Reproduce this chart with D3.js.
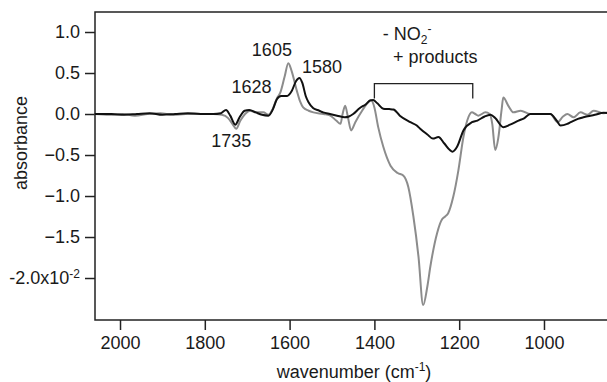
<!DOCTYPE html>
<html>
<head>
<meta charset="utf-8">
<script src="https://cdn.jsdelivr.net/npm/d3@7/dist/d3.min.js"></script>
<style>
  html, body { margin: 0; padding: 0; background: #fff; }
  svg { display: block; }
  text { font-family: "Liberation Sans", Arial, sans-serif; fill: #1a1a1a; }
</style>
</head>
<body>
<svg id="chart" width="607" height="382"></svg>
<script>
// Difference spectra (absorbance ×10^-2) vs wavenumber (cm^-1)
const darkWavenumber = [2060, 2020, 1990, 1960, 1930, 1900, 1870, 1840, 1810, 1780, 1762, 1750, 1740, 1728, 1718, 1706, 1695, 1680, 1665, 1650, 1640, 1630, 1620, 1606, 1595, 1585, 1577, 1570, 1562, 1555, 1544, 1530, 1521, 1505, 1488, 1470, 1460, 1450, 1435, 1420, 1410, 1403, 1393, 1379, 1365, 1355, 1340, 1315, 1300, 1292, 1275, 1262, 1249, 1235, 1222, 1216, 1205, 1190, 1170, 1157, 1140, 1126, 1115, 1096, 1080, 1060, 1048, 1032, 1000, 985, 970, 961, 945, 937, 920, 907, 880, 859, 850];
const darkAbsorbance = [0.0, 0.0, -0.01, 0.0, 0.01, -0.01, 0.0, 0.01, 0.0, 0.0, 0.01, 0.05, -0.02, -0.13, -0.04, 0.04, 0.05, 0.02, -0.01, -0.02, 0.05, 0.18, 0.22, 0.22, 0.28, 0.40, 0.44, 0.38, 0.22, 0.14, 0.07, 0.04, 0.02, 0.0, -0.02, -0.04, -0.03, 0.0, 0.07, 0.12, 0.165, 0.17, 0.13, 0.065, 0.06, 0.055, -0.02, -0.10, -0.14, -0.18, -0.25, -0.30, -0.28, -0.36, -0.44, -0.46, -0.40, -0.20, -0.10, -0.08, -0.03, -0.01, -0.05, -0.16, -0.13, -0.08, -0.055, 0.0, 0.0, 0.0, -0.08, -0.14, -0.12, -0.10, -0.06, -0.04, -0.01, 0.015, 0.01];

const greyWavenumber = [2060, 2025, 1995, 1965, 1935, 1905, 1875, 1845, 1815, 1780, 1760, 1745, 1735, 1726, 1716, 1705, 1693, 1680, 1662, 1650, 1640, 1630, 1622, 1612, 1603, 1595, 1583, 1575, 1568, 1555, 1544, 1520, 1504, 1490, 1480, 1475, 1469, 1462, 1455, 1445, 1429, 1415, 1408, 1400, 1391, 1379, 1362, 1345, 1332, 1320, 1308, 1296, 1285, 1275, 1268, 1252, 1240, 1233, 1226, 1214, 1202, 1190, 1181, 1170, 1162, 1155, 1138, 1128, 1122, 1115, 1108, 1100, 1096, 1084, 1072, 1055, 1032, 985, 968, 955, 945, 930, 914, 897, 883, 859, 850];
const greyAbsorbance = [0.0, -0.01, 0.0, -0.02, 0.0, 0.01, -0.01, 0.0, 0.0, 0.0, -0.01, -0.05, -0.12, -0.18, -0.08, 0.0, 0.04, 0.02, 0.02, -0.01, 0.06, 0.19, 0.26, 0.45, 0.62, 0.52, 0.285, 0.15, 0.08, 0.04, 0.02, 0.0, -0.02, -0.08, -0.12, 0.0, 0.10, -0.05, -0.20, -0.10, 0.04, 0.14, 0.17, 0.08, -0.16, -0.40, -0.63, -0.72, -0.75, -0.89, -1.25, -1.74, -2.33, -2.10, -1.86, -1.45, -1.28, -1.25, -1.21, -1.01, -0.69, -0.28, -0.08, 0.02, 0.0, -0.02, 0.02, 0.0, -0.12, -0.44, -0.30, 0.05, 0.20, 0.10, 0.02, 0.04, 0.0, 0.0, -0.10, -0.03, 0.0, -0.04, 0.02, -0.01, 0.04, 0.01, 0.02];

const xTicks = [2000, 1800, 1600, 1400, 1200, 1000];
const yTicks = [1.0, 0.5, 0.0, -0.5, -1.0, -1.5, -2.0];

// Peak annotations: [label, wavenumber, absorbance] at the start of each label's baseline
const peakLabels = [
  ["1605", 1689, 0.707],
  ["1580", 1571, 0.504],
  ["1628", 1737, 0.252],
  ["1735", 1785, -0.406]
];

(function draw() {
  const svg = d3.select("#chart");
  const mLeft = 95, mRight = 608, mTop = 12, mBottom = 320;

  const x = d3.scaleLinear().domain([2059, 849]).range([mLeft, mRight]);
  const y = d3.scaleLinear().domain([-2.512, 1.244]).range([mBottom, mTop]);

  // Plot frame
  svg.append("rect")
    .attr("x", mLeft).attr("y", mTop)
    .attr("width", mRight - mLeft).attr("height", mBottom - mTop)
    .attr("fill", "none").attr("stroke", "#222").attr("stroke-width", 1.5);

  // Axes
  const xAxis = d3.axisBottom(x).tickValues(xTicks).tickSize(10).tickPadding(6).tickFormat(d3.format("d"));
  const gx = svg.append("g").attr("transform", `translate(0,${mBottom})`).call(xAxis);
  gx.select(".domain").remove();

  const yAxis = d3.axisLeft(y).tickValues(yTicks).tickSize(10).tickPadding(5).tickFormat(d3.format(".1f"));
  const gy = svg.append("g").attr("transform", `translate(${mLeft},0)`).call(yAxis);
  gy.select(".domain").remove();

  [gx, gy].forEach(g => {
    g.selectAll(".tick line").attr("stroke", "#222").attr("stroke-width", 1.5);
    g.selectAll(".tick text").attr("font-size", 18).attr("fill", "#1a1a1a")
      .style("font-family", "'Liberation Sans', Arial, sans-serif");
  });

  // Lowest tick carries the ×10^-2 scale factor
  gy.selectAll(".tick text").filter(d => d === -2.0).each(function() {
    const t = d3.select(this);
    t.text(null);
    t.append("tspan").text("-2.0x10");
    t.append("tspan").attr("dy", "-0.55em").attr("font-size", 12).text("-2");
  });

  // Spectra
  const line = d3.line().x(d => x(d[0])).y(d => y(d[1])).curve(d3.curveMonotoneX);
  const darkSeries = darkWavenumber.map((w, i) => [w, darkAbsorbance[i]]);
  const greySeries = greyWavenumber.map((w, i) => [w, greyAbsorbance[i]]);

  const plot = svg.append("g");
  plot.append("path").datum(greySeries)
    .attr("d", line).attr("fill", "none").attr("stroke", "#8c8c8c").attr("stroke-width", 2);
  plot.append("path").datum(darkSeries)
    .attr("d", line).attr("fill", "none").attr("stroke", "#111").attr("stroke-width", 2);

  // Peak labels
  svg.append("g").selectAll("text").data(peakLabels).join("text")
    .attr("x", d => x(d[1])).attr("y", d => y(d[2]))
    .attr("font-size", 18).text(d => d[0]);

  // Bracket marking the nitrite loss / product region
  const bracketHi = 1400, bracketLo = 1168;
  const bracketTopY = y(0.37), bracketFootY = y(0.19);
  svg.append("path")
    .attr("d", `M${x(bracketHi)},${bracketFootY}V${bracketTopY}H${x(bracketLo)}V${bracketFootY}`)
    .attr("fill", "none").attr("stroke", "#222").attr("stroke-width", 1.3);

  const no2 = svg.append("text").attr("x", x(1380)).attr("y", y(0.90)).attr("font-size", 18);
  no2.append("tspan").text("- NO");
  no2.append("tspan").attr("font-size", 12).attr("dy", "0.35em").text("2");
  no2.append("tspan").attr("font-size", 12).attr("dy", "-0.95em").text("-");

  svg.append("text").attr("x", x(1356)).attr("y", y(0.62)).attr("font-size", 18).text("+ products");

  // Axis titles
  const xt = svg.append("text").attr("x", 354).attr("y", 378).attr("text-anchor", "middle").attr("font-size", 18);
  xt.append("tspan").text("wavenumber (cm");
  xt.append("tspan").attr("font-size", 12).attr("dy", "-0.6em").text("-1");
  xt.append("tspan").attr("dy", "0.4em").text(")");

  svg.append("text")
    .attr("transform", "translate(27,143) rotate(-90)")
    .attr("text-anchor", "middle").attr("font-size", 18).text("absorbance");
})();
</script>
</body>
</html>
